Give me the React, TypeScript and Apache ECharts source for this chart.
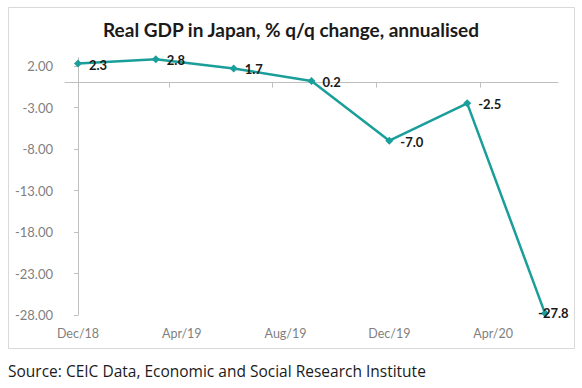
import React, { useEffect, useRef } from "react";
import * as echarts from "echarts";

const quarters = ["2018-12", "2019-03", "2019-06", "2019-09", "2019-12", "2020-03", "2020-06"];
const gdpChange = [2.3, 2.8, 1.7, 0.2, -7.0, -2.5, -27.8];
const xTickLabels = ["Dec/18", "Apr/19", "Aug/19", "Dec/19", "Apr/20"];
const yTickValues = [2, -3, -8, -13, -18, -23, -28];
const titleText = "Real GDP in Japan, % q/q change, annualised";
const sourceText = "Source: CEIC Data, Economic and Social Research Institute";

const MONTHS = ["Jan", "Feb", "Mar", "Apr", "May", "Jun", "Jul", "Aug", "Sep", "Oct", "Nov", "Dec"];
const BASE_YEAR = 2018;
const BASE_MONTH = 12;

function monthIndexFromIso(s: string): number {
  const [y, m] = s.split("-").map(Number);
  return (y - BASE_YEAR) * 12 + (m - BASE_MONTH);
}
function monthIndexFromLabel(s: string): number {
  const [mon, yy] = s.split("/");
  const y = 2000 + Number(yy);
  const m = MONTHS.indexOf(mon) + 1;
  return (y - BASE_YEAR) * 12 + (m - BASE_MONTH);
}

const FONT = "Lato, 'Open Sans', sans-serif";
const LINE_COLOR = "#1a9e9a";

export default function App() {
  const ref = useRef<HTMLDivElement>(null);

  useEffect(() => {
    if (!ref.current) return;
    const chart = echarts.init(ref.current, null, { renderer: "svg" });

    const labelMonths = xTickLabels.map(monthIndexFromLabel);
    const labelMap: Record<number, string> = {};
    labelMonths.forEach((m, i) => (labelMap[m] = xTickLabels[i]));
    const boundaryTicks = labelMonths.slice(1).map((m) => m - 0.5);

    const firstMonth = monthIndexFromIso(quarters[0]);
    const lastMonth = monthIndexFromIso(quarters[quarters.length - 1]);
    const xMin = firstMonth - 0.5;
    const xMax = lastMonth + 0.5;

    const data = quarters.map((q, i) => {
      const item: any = { value: [monthIndexFromIso(q), gdpChange[i]] };
      if (i === quarters.length - 1) {
        item.label = { offset: [-18, 0] };
      }
      return item;
    });

    chart.setOption({
      animation: false,
      backgroundColor: "#ffffff",
      title: {
        text: titleText,
        left: "center",
        top: 15,
        textStyle: {
          fontFamily: FONT,
          fontSize: 19,
          fontWeight: "bold",
          color: "#1a1a1a",
        },
      },
      graphic: [
        {
          type: "rect",
          shape: { x: 8.5, y: 7.5, width: 566, height: 341 },
          style: { fill: "none", stroke: "#d9d9d9", lineWidth: 1 },
          z: -1,
        },
        {
          type: "text",
          left: 8,
          top: 363,
          style: {
            text: sourceText,
            font: `15.5px 'Open Sans', sans-serif`,
            fill: "#1a1a1a",
          },
        },
      ],
      grid: {
        left: 65,
        top: 57.7,
        width: 493,
        height: 257.3,
        containLabel: false,
      },
      xAxis: [
        {
          type: "value",
          min: xMin,
          max: xMax,
          axisLine: { show: true, onZero: true, lineStyle: { color: "#bfbfbf", width: 1 } },
          axisTick: {
            show: true,
            inside: false,
            length: 5,
            customValues: boundaryTicks,
            lineStyle: { color: "#bfbfbf" },
          },
          axisLabel: { show: false },
          splitLine: { show: false },
        },
        {
          type: "value",
          position: "bottom",
          min: xMin,
          max: xMax,
          axisLine: { show: false, onZero: false },
          axisTick: { show: false },
          axisLabel: {
            show: true,
            customValues: labelMonths,
            formatter: (v: number) => labelMap[Math.round(v)] ?? "",
            margin: 12,
            fontFamily: FONT,
            fontSize: 12.5,
            color: "#7f7f7f",
          },
          splitLine: { show: false },
        },
      ],
      yAxis: {
        type: "value",
        min: -28,
        max: 3,
        axisLine: { show: true, lineStyle: { color: "#bfbfbf", width: 1 } },
        axisTick: {
          show: true,
          inside: false,
          length: 4,
          customValues: yTickValues,
          lineStyle: { color: "#bfbfbf" },
        },
        axisLabel: {
          show: true,
          customValues: yTickValues,
          formatter: (v: number) => v.toFixed(2),
          margin: 12,
          fontFamily: FONT,
          fontSize: 13,
          color: "#7f7f7f",
        },
        splitLine: { show: false },
      },
      series: [
        {
          type: "line",
          xAxisIndex: 0,
          data,
          symbol: "diamond",
          symbolSize: 8,
          lineStyle: { color: LINE_COLOR, width: 2.5 },
          itemStyle: { color: LINE_COLOR },
          label: {
            show: true,
            position: "right",
            distance: 7,
            offset: [0, 1],
            formatter: (p: any) => Number(p.value[1]).toFixed(1),
            fontFamily: FONT,
            fontSize: 13,
            fontWeight: "bold",
            color: "#1a1a1a",
          },
        },
      ],
    });

    return () => chart.dispose();
  }, []);

  return (
    <div
      ref={ref}
      style={{ position: "absolute", left: 0, top: 0, width: 582, height: 388 }}
    />
  );
}
